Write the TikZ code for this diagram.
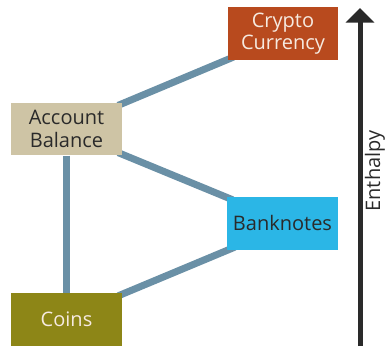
\documentclass[tikz,border=0pt]{standalone}
\usepackage{fontspec}
\setmainfont{Open Sans}
\usetikzlibrary{arrows.meta,backgrounds}
\definecolor{cryptored}{HTML}{B84A1E}
\definecolor{accountbeige}{HTML}{CEC4A5}
\definecolor{notesblue}{HTML}{2BB6E6}
\definecolor{coinsolive}{HTML}{8D8617}
\definecolor{linkblue}{HTML}{6A90A6}
\definecolor{darktext}{HTML}{2A2A2A}
\definecolor{lighttext}{HTML}{F6EAE0}
\begin{document}
\begin{tikzpicture}[x=0.75pt,y=0.75pt,
    box/.style={minimum width=83pt, minimum height=39.5pt, inner sep=0pt, align=center, font=\fontsize{15}{17}\selectfont},
    link/.style={line width=5.25pt, linkblue}]
          \useasboundingbox (0,0) rectangle (392,346);
          \node[box, fill=cryptored, text=lighttext] (crypto) at (283,312.5) {Crypto\\Currency};
          \node[box, fill=accountbeige, text=darktext] (account) at (66.5,217) {Account\\Balance};
          \node[box, fill=notesblue, text=darktext] (notes) at (282.5,122.5) {Banknotes};
          \node[box, fill=coinsolive, text=lighttext] (coins) at (66.5,26.5) {Coins};

          \begin{scope}[on background layer]
          \draw[link] ([shift={(-4,-3)}]account.north east) -- ([shift={(6,3)}]crypto.south west);
          \draw[link] ([shift={(-4,3)}]account.south east) -- ([shift={(6,-3)}]notes.north west);
          \draw[link] (account.south) -- (coins.north);
          \draw[link] ([shift={(-4,-3)}]coins.north east) -- ([shift={(8,3)}]notes.south west);
          \end{scope}

          \coordinate (low) at (360,0);
          \coordinate (high) at (360,338);
          \draw[-{Triangle[width=21pt,length=11pt]}, line width=3.75pt, darktext] (low) -- (high);
          \node[rotate=90, font=\fontsize{15}{17}\selectfont, text=darktext] (enthalpy) at (375,175) {Enthalpy};
    \end{tikzpicture}
\end{document}
